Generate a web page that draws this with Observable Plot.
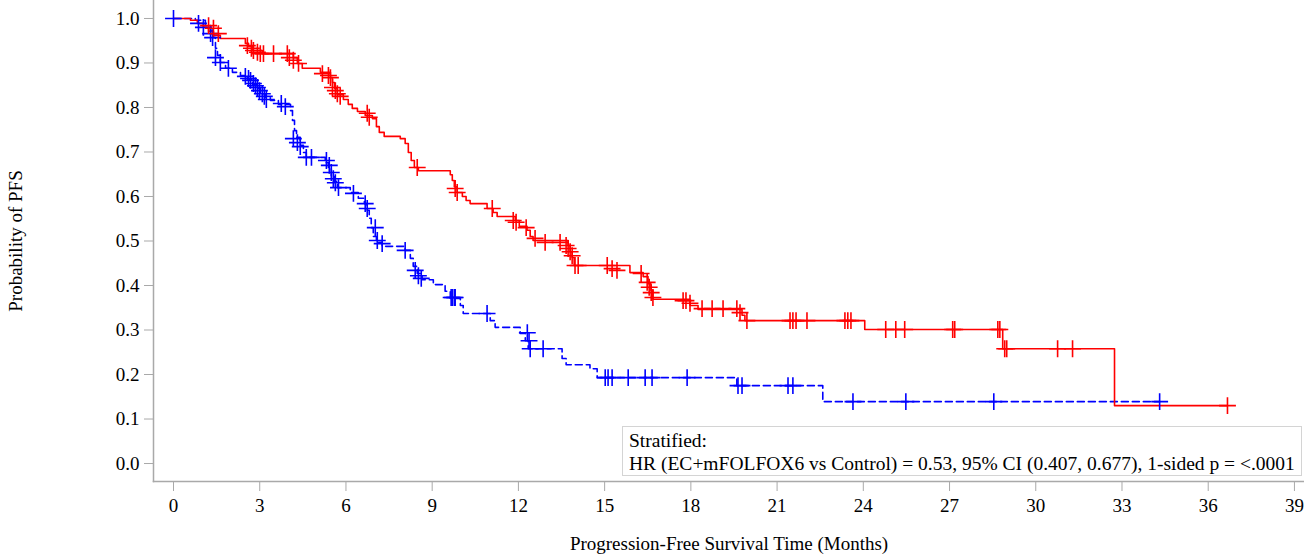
<!DOCTYPE html>
<html><head><meta charset="utf-8">
<script src="https://cdn.jsdelivr.net/npm/d3@7"></script>
<script src="https://cdn.jsdelivr.net/npm/@observablehq/plot@0.6"></script>
<style>
html,body{margin:0;padding:0;background:#fff;}
#wrap{position:relative;width:1304px;height:556px;font-family:"Liberation Serif","Times New Roman",serif;color:#000;}
#wrap svg{display:block;}
#note{position:absolute;left:622px;top:426px;width:680px;height:50px;border:1.5px solid #d4d4d4;background:#fff;font-size:19.5px;line-height:23px;padding:2px 6px;box-sizing:border-box;white-space:nowrap;}
</style></head><body>
<div id="wrap"><div id="note"><div id="l1"></div><div id="l2"></div></div></div>
<script>
// Red arm (EC+mFOLFOX6): step times (months) and survival
const redT = [0,0.59,0.83,1.04,1.22,1.39,1.63,2.50,2.61,2.75,3.09,4.17,4.31,4.48,5.11,5.46,5.53,5.60,5.70,5.91,6.08,6.22,6.40,6.67,6.92,7.06,7.16,7.33,7.89,8.06,8.17,8.27,8.38,8.52,9.63,9.70,9.77,9.87,10.05,10.18,10.32,10.91,11.12,11.26,11.89,12.03,12.30,12.41,12.51,13.73,13.80,13.87,13.94,15.88,16.34,16.51,16.61,16.68,17.97,18.25,19.78,19.88,24.05,28.85,32.74,36.67];
const redS = [1.0,0.996,0.989,0.980,0.971,0.962,0.955,0.944,0.937,0.928,0.921,0.912,0.899,0.888,0.879,0.867,0.856,0.843,0.829,0.818,0.807,0.798,0.791,0.782,0.775,0.757,0.744,0.735,0.730,0.719,0.699,0.681,0.665,0.658,0.649,0.636,0.622,0.609,0.600,0.591,0.584,0.573,0.564,0.555,0.546,0.533,0.524,0.510,0.501,0.490,0.476,0.463,0.445,0.429,0.420,0.404,0.389,0.369,0.355,0.346,0.333,0.321,0.301,0.258,0.130,0.130];
// Red censor marks
const redCT = [1.22,1.39,1.56,2.57,2.71,2.78,2.92,3.02,3.13,3.48,3.96,4.03,4.17,4.35,5.18,5.39,5.46,5.53,5.63,5.70,5.80,6.74,6.81,8.48,9.80,9.87,11.09,11.82,11.92,12.27,12.58,12.93,13.45,13.66,13.73,13.80,13.87,13.97,14.08,15.09,15.26,15.43,16.27,16.48,16.55,16.62,16.68,17.73,17.83,17.97,18.39,18.74,19.12,19.60,19.71,19.95,21.45,21.55,21.66,22.04,23.36,23.46,23.57,24.78,25.13,25.44,27.11,27.18,28.68,28.75,28.92,28.99,30.76,31.28,36.67];
const redCS = [0.984,0.978,0.966,0.939,0.933,0.928,0.924,0.921,0.921,0.921,0.921,0.912,0.906,0.899,0.876,0.872,0.867,0.845,0.838,0.831,0.825,0.787,0.778,0.665,0.618,0.609,0.573,0.546,0.542,0.530,0.506,0.497,0.497,0.490,0.483,0.476,0.467,0.445,0.445,0.445,0.438,0.434,0.427,0.407,0.396,0.384,0.373,0.366,0.366,0.360,0.348,0.348,0.348,0.348,0.339,0.321,0.321,0.321,0.321,0.321,0.321,0.321,0.321,0.301,0.301,0.301,0.301,0.301,0.301,0.301,0.258,0.258,0.258,0.258,0.130];
// Blue arm (Control)
const blueT = [0,0.76,1.11,1.29,1.39,1.46,1.53,1.63,1.81,2.05,2.33,2.57,2.75,2.88,3.02,3.20,3.37,3.65,4.07,4.14,4.21,4.28,4.41,4.52,4.62,5.28,5.39,5.49,5.60,5.70,6.15,6.43,6.64,6.74,6.81,6.88,6.95,7.06,7.26,8.06,8.24,8.34,8.48,8.65,9.04,9.45,9.63,9.98,10.08,11.02,11.19,12.06,12.24,12.34,13.52,13.66,14.49,14.74,19.60,22.59,34.31];
const blueS = [1.0,0.996,0.984,0.973,0.957,0.933,0.917,0.901,0.888,0.879,0.872,0.863,0.852,0.843,0.831,0.822,0.816,0.807,0.793,0.771,0.748,0.733,0.715,0.699,0.688,0.676,0.663,0.647,0.634,0.620,0.609,0.596,0.584,0.569,0.551,0.530,0.510,0.497,0.488,0.479,0.461,0.443,0.427,0.413,0.402,0.387,0.371,0.355,0.337,0.321,0.306,0.292,0.276,0.258,0.236,0.222,0.213,0.193,0.175,0.139,0.139];
const blueCT = [0,0.87,1.04,1.29,1.36,1.46,1.63,1.91,2.50,2.61,2.68,2.78,2.85,2.92,2.99,3.09,3.16,3.23,3.75,3.89,4.17,4.31,4.41,4.62,4.80,5.32,5.42,5.49,5.56,5.63,5.74,6.26,6.67,6.74,7.02,7.09,7.26,8.06,8.41,8.52,8.62,9.66,9.70,9.77,9.80,10.91,12.31,12.37,12.41,12.86,15.02,15.12,15.26,15.82,16.41,16.65,17.87,19.64,19.78,21.38,21.55,23.64,25.48,28.54,34.31];
const blueCS = [1.0,0.989,0.980,0.966,0.957,0.912,0.901,0.888,0.870,0.865,0.861,0.854,0.849,0.845,0.838,0.831,0.825,0.818,0.809,0.802,0.730,0.721,0.712,0.688,0.688,0.681,0.670,0.654,0.640,0.631,0.620,0.607,0.584,0.573,0.530,0.501,0.494,0.479,0.434,0.422,0.416,0.373,0.373,0.373,0.373,0.337,0.294,0.276,0.258,0.258,0.193,0.193,0.193,0.193,0.193,0.193,0.193,0.175,0.175,0.175,0.175,0.139,0.139,0.139,0.139];
const xTicks = [0,3,6,9,12,15,18,21,24,27,30,33,36,39];
const yTicks = [0.0,0.1,0.2,0.3,0.4,0.5,0.6,0.7,0.8,0.9,1.0];
const xLabel = "Progression-Free Survival Time (Months)";
const yLabel = "Probability of PFS";
const noteLine1 = "Stratified:";
const noteLine2 = "HR (EC+mFOLFOX6 vs Control) = 0.53, 95% CI (0.407, 0.677), 1-sided p = <.0001";

const red = redT.map((t,i)=>({t, s: redS[i]}));
const blue = blueT.map((t,i)=>({t, s: blueS[i]}));
const redC = redCT.map((t,i)=>({t, s: redCS[i]}));
const blueC = blueCT.map((t,i)=>({t, s: blueCS[i]}));
const font = '"Liberation Serif","Times New Roman",serif';
const axisGray = "#a9a9a9";

const chart = Plot.plot({
  width: 1304, height: 556,
  marginLeft: 153, marginRight: 0, marginTop: 0, marginBottom: 75,
  style: {fontFamily: font, fontSize: "19px", color: "#000", background: "#fff", overflow: "visible"},
  x: {domain: [-0.696, 39.35]},
  y: {domain: [-0.0404, 1.0404]},
  marks: [
    Plot.frame({anchor: "left", stroke: axisGray, strokeWidth: 1.5}),
    Plot.frame({anchor: "bottom", stroke: axisGray, strokeWidth: 1.5}),
    Plot.axisY(yTicks, {tickSize: 9, tickPadding: 5, stroke: axisGray, fill: "#000", tickFormat: d => d.toFixed(1), label: null, fontSize: 19}),
    Plot.axisX(xTicks, {tickSize: 10, tickPadding: 7, stroke: axisGray, fill: "#000", label: null, fontSize: 19}),
    Plot.line(blue, {x: "t", y: "s", curve: "step-after", stroke: "#0000ff", strokeWidth: 1.6, strokeDasharray: "7,4"}),
    Plot.line(red, {x: "t", y: "s", curve: "step-after", stroke: "#ff0000", strokeWidth: 1.6}),
    Plot.dot(blueC, {x: "t", y: "s", symbol: "plus", r: 5.5, stroke: "#0000ff", strokeWidth: 1.6}),
    Plot.dot(redC, {x: "t", y: "s", symbol: "plus", r: 5.5, stroke: "#ff0000", strokeWidth: 1.6}),
    Plot.text([yLabel], {frameAnchor: "left", dx: -138, rotate: -90, textAnchor: "middle", lineAnchor: "middle", fontSize: 19, fill: "#000"}),
    Plot.text([xLabel], {frameAnchor: "bottom", dy: 62, textAnchor: "middle", lineAnchor: "middle", fontSize: 19, fill: "#000"})
  ]
});
const wrap = document.getElementById("wrap");
wrap.insertBefore(chart, wrap.firstChild);
document.getElementById("l1").textContent = noteLine1;
document.getElementById("l2").textContent = noteLine2;
</script>
</body></html>
